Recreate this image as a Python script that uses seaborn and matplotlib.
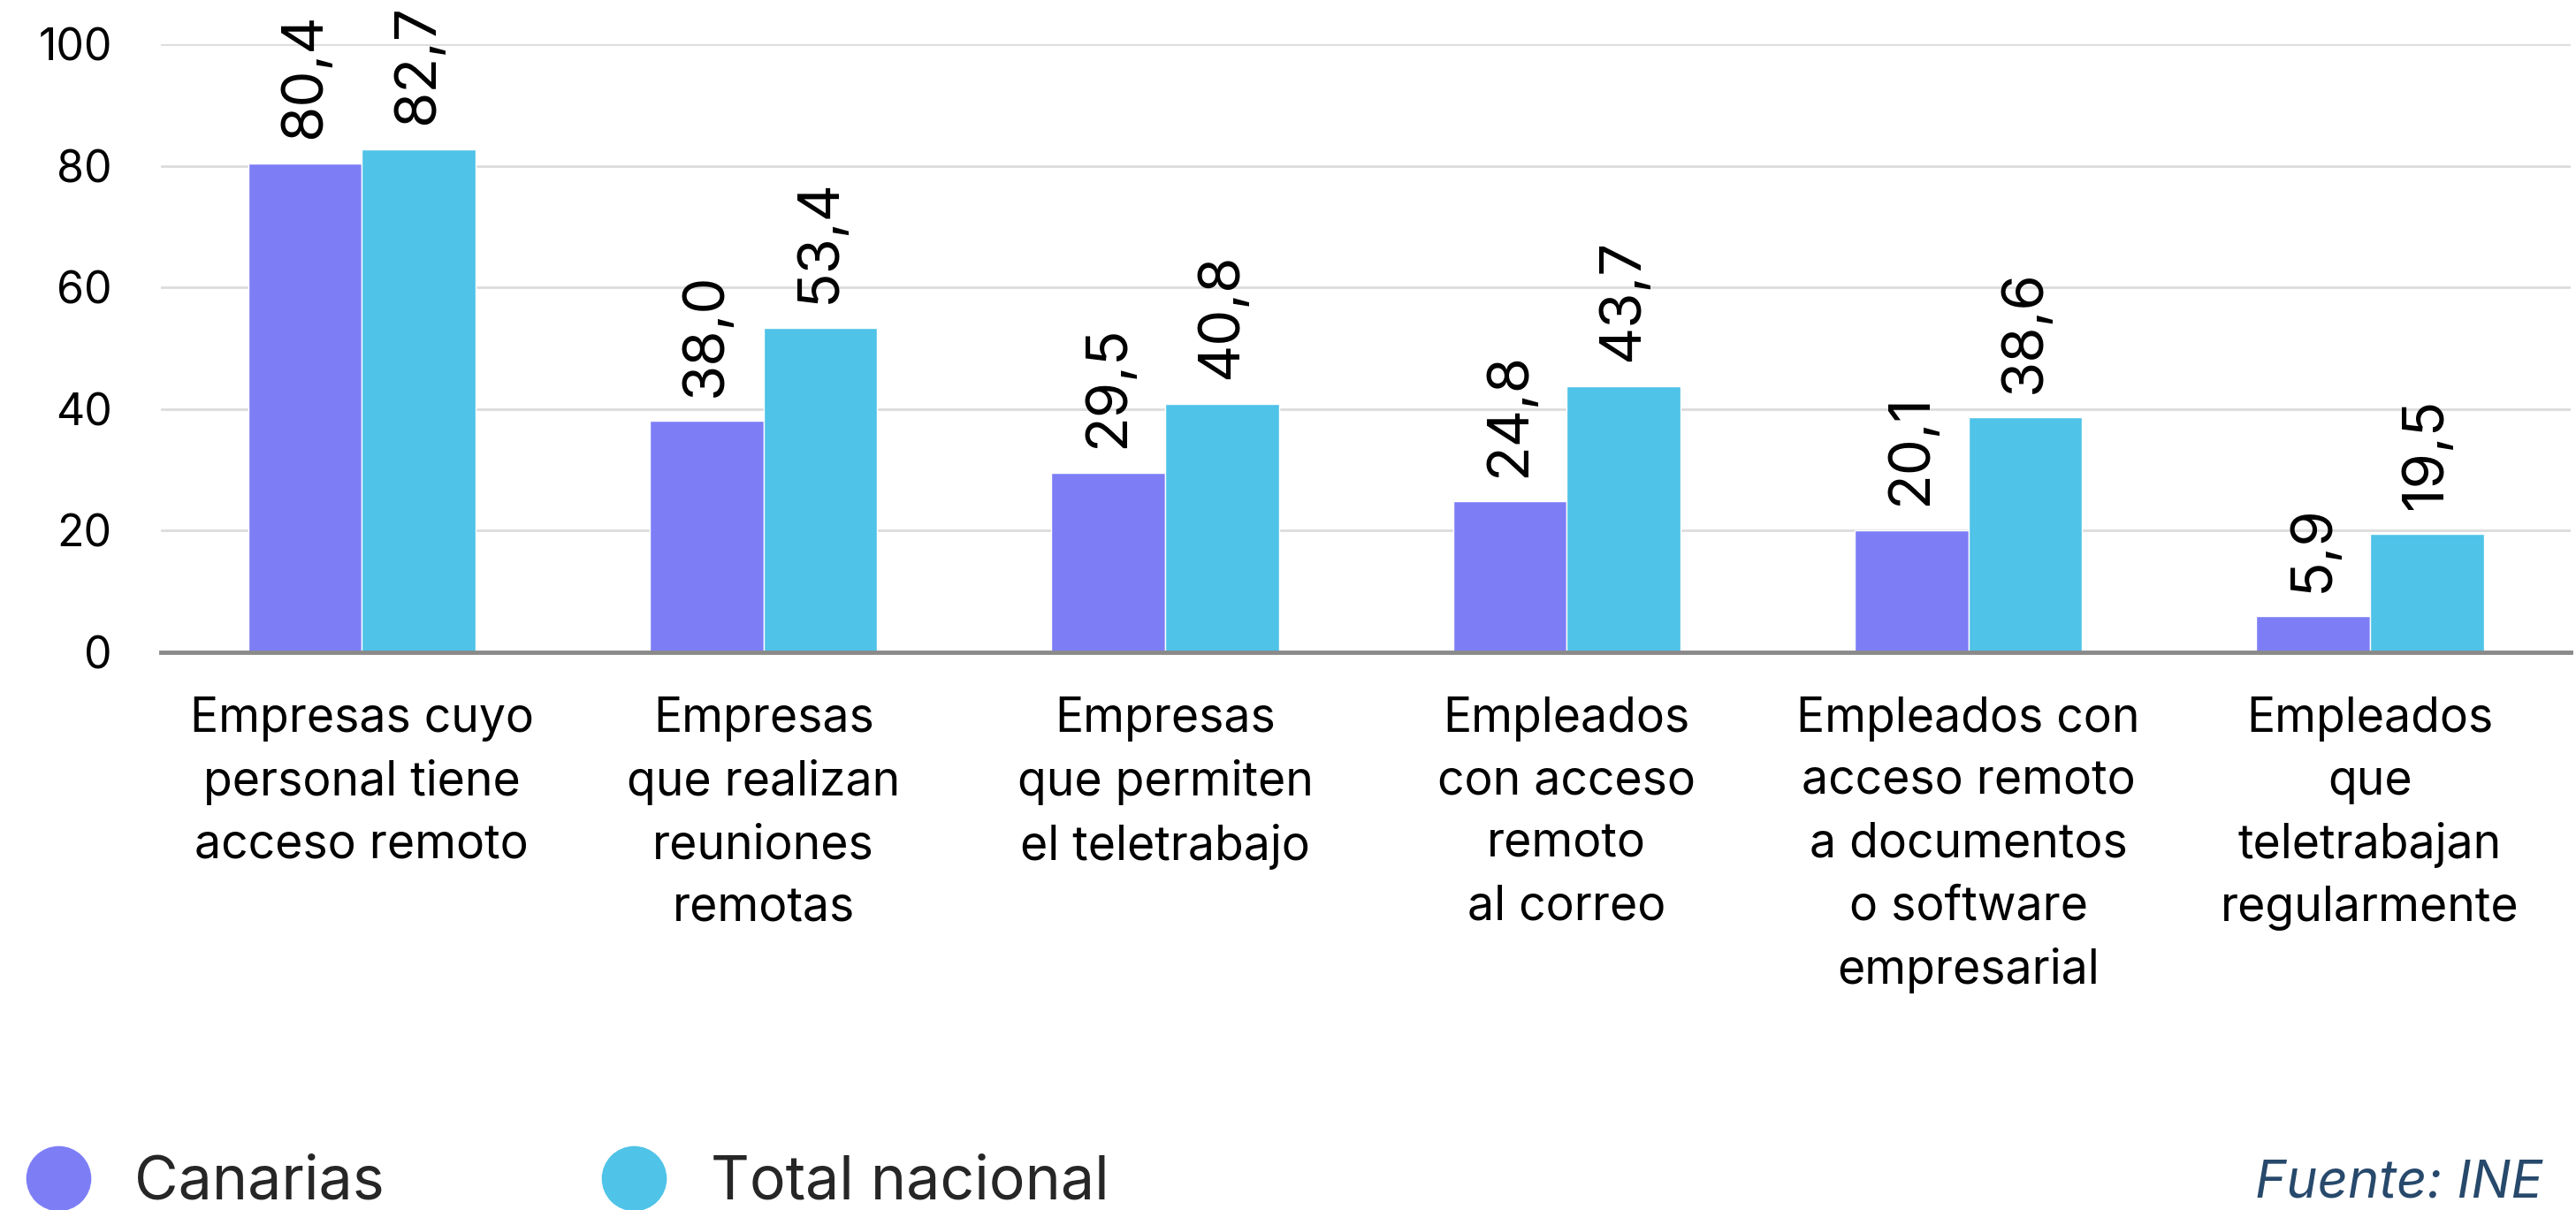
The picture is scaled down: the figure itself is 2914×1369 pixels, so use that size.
import matplotlib.pyplot as plt
from matplotlib.lines import Line2D
import pandas as pd
import seaborn as sns

categorias = [
    "Empresas cuyo\npersonal tiene\nacceso remoto",
    "Empresas\nque realizan\nreuniones\nremotas",
    "Empresas\nque permiten\nel teletrabajo",
    "Empleados\ncon acceso\nremoto\nal correo",
    "Empleados con\nacceso remoto\na documentos\no software\nempresarial",
    "Empleados\nque\nteletrabajan\nregularmente",
]
canarias = [80.4, 38.0, 29.5, 24.8, 20.1, 5.9]
total_nacional = [82.7, 53.4, 40.8, 43.7, 38.6, 19.5]
series = ["Canarias", "Total nacional"]
colores = ["#7d7ef6", "#4fc3e8"]
yticks = [0, 20, 40, 60, 80, 100]

df = pd.DataFrame({
    "categoria": categorias * 2,
    "serie": [series[0]] * len(categorias) + [series[1]] * len(categorias),
    "valor": canarias + total_nacional,
})

sns.set_style("white")
plt.rcParams["font.family"] = ["Inter", "DejaVu Sans"]

fig = plt.figure(figsize=(29.14, 13.69), dpi=100)
ax = fig.add_axes([0.0625, 0.461, 0.9355, 0.5025])

sns.barplot(data=df, x="categoria", y="valor", hue="serie", palette=colores,
            width=0.566, gap=0, saturation=1, legend=False, ax=ax, zorder=3)

for cont in ax.containers:
    etiquetas = [f"{b.get_height():.1f}".replace(".", ",") for b in cont]
    ax.bar_label(cont, labels=etiquetas, rotation=90, padding=20,
                 fontsize=47, color="black", clip_on=False)

ax.set_xlim(-0.5, 5.5)
ax.set_ylim(0, 100)
ax.set_yticks(yticks)
ax.set_yticklabels([str(v) for v in yticks])
ax.yaxis.grid(True, color="#dcdcdc", linewidth=2, zorder=0)
ax.set_axisbelow(True)
ax.set_xlabel("")
ax.set_ylabel("")
ax.tick_params(axis="y", length=0, pad=40, labelsize=36, colors="black")
ax.tick_params(axis="x", length=0, pad=36, labelsize=38.5, colors="black")
for lab in ax.get_xticklabels():
    lab.set_linespacing(1.5)

for s in ["top", "right", "left"]:
    ax.spines[s].set_visible(False)
ax.spines["bottom"].set_color("#8a8a8a")
ax.spines["bottom"].set_linewidth(3.5)
ax.spines["bottom"].set_zorder(4)

handles = [Line2D([0], [0], marker="o", linestyle="", markersize=52,
                  markerfacecolor=c, markeredgecolor=c) for c in colores]
fig.legend(handles, series, loc="center left", bbox_to_anchor=(-0.002, 0.022),
           ncol=2, frameon=False, fontsize=49, handletextpad=0.62,
           columnspacing=3.5, borderaxespad=0.0, handlelength=1.3)

fig.text(0.987, 0.022, "Fuente: INE", ha="right", va="center", fontsize=43,
         style="italic", color="#27496b")

fig.savefig("out.png", dpi=100)
